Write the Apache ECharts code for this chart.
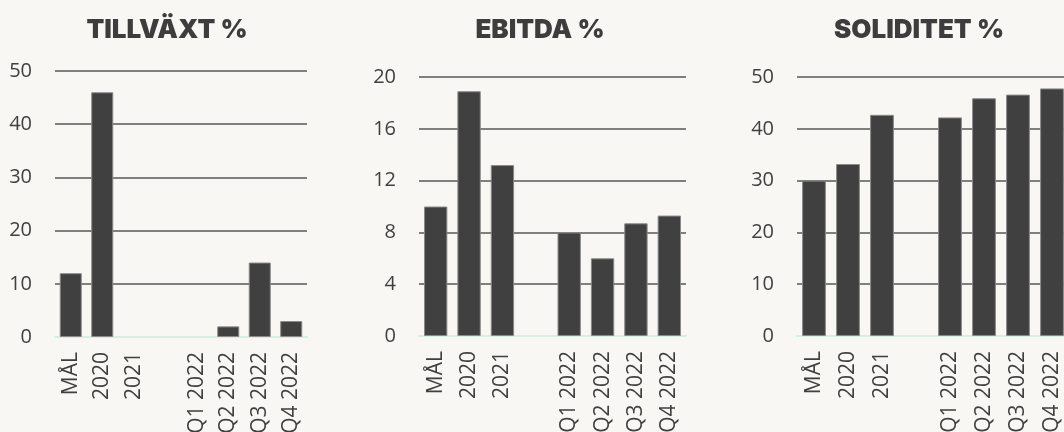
<!DOCTYPE html>
<html lang="sv">
<head>
    <meta charset="utf-8">
    <title>Nyckeltal</title>
    <style>
        html, body { margin: 0; padding: 0; background: #f8f7f3; overflow: hidden; }
        #chart { width: 1064px; height: 432px; }
    </style>
</head>
<body>
    <div id="chart"></div>
    <script src="https://cdn.jsdelivr.net/npm/echarts@6/dist/echarts.min.js"></script>
    <script type="text/javascript">
        // kategorier (tom kategori = mellanrum)
        var categories = ["MÅL", "2020", "2021", "", "Q1 2022", "Q2 2022", "Q3 2022", "Q4 2022"];
        // titlar
        var titles = ["TILLVÄXT %", "EBITDA %", "SOLIDITET %"];
        // värden
        var tillvaxt = [12, 46, null, null, null, 2, 14, 3];
        var ebitda = [10, 18.9, 13.2, null, 8, 6, 8.7, 9.3];
        var soliditet = [30, 33.2, 42.7, null, 42.2, 45.9, 46.6, 47.8];
        // y-axlar
        var yMax = [50, 20, 50];
        var yStep = [10, 4, 10];

        var seriesData = [tillvaxt, ebitda, soliditet];
        var grids = [
            { left: 55, width: 252, top: 71, height: 266 },
            { left: 419, width: 267, top: 77, height: 259 },
            { left: 797, width: 272, top: 77, height: 259 }
        ];
        var titleCenters = [162, 535, 914];

        var option = {
            backgroundColor: "#f8f7f3",
            animation: false,
            title: [],
            grid: grids.map(function (g) {
                g.containLabel = false;
                g.outerBoundsMode = "none";
                return g;
            }),
            xAxis: [],
            yAxis: [],
            series: []
        };

        for (var i = 0; i < 3; i++) {
            option.title.push({
                text: titles[i],
                left: titleCenters[i],
                top: 12,
                textAlign: "center",
                textStyle: {
                    fontFamily: "Inter",
                    fontWeight: 900,
                    fontSize: 26,
                    color: "#3d3d3d"
                }
            });
            option.xAxis.push({
                type: "category",
                gridIndex: i,
                data: categories,
                axisTick: { show: false },
                axisLine: { show: true, lineStyle: { color: "#d3f1e1", width: 2 } },
                axisLabel: {
                    interval: 0,
                    rotate: 90,
                    margin: 15,
                    fontFamily: "Open Sans",
                    fontSize: 21,
                    color: "#404040"
                }
            });
            option.yAxis.push({
                type: "value",
                gridIndex: i,
                min: 0,
                max: yMax[i],
                interval: yStep[i],
                axisLine: { show: false },
                axisTick: { show: false },
                splitLine: { lineStyle: { color: "#7f7f7f", width: 2 } },
                axisLabel: {
                    margin: 23,
                    fontFamily: "Open Sans",
                    fontSize: 20,
                    color: "#404040"
                }
            });
            option.series.push({
                type: "bar",
                xAxisIndex: i,
                yAxisIndex: i,
                barCategoryGap: "30%",
                data: seriesData[i],
                itemStyle: {
                    color: "#404040",
                    borderColor: "#8a8a8a",
                    borderWidth: 1
                }
            });
        }

        var chart = echarts.init(document.getElementById("chart"));
        chart.setOption(option);
    </script>
</body>
</html>
